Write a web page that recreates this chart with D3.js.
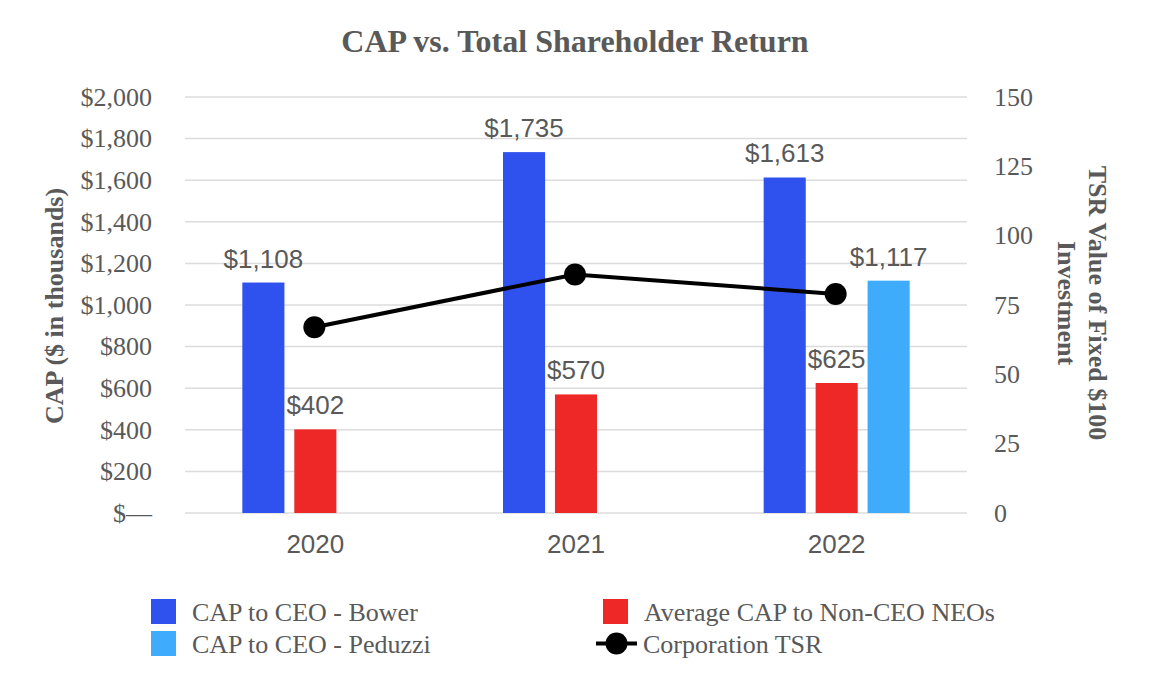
<!DOCTYPE html>
<html>
<head>
<meta charset="utf-8">
<script src="https://cdn.jsdelivr.net/npm/d3@7"></script>
<style>
  body { margin: 0; background: #fff; }
  .canvas { width: 1150px; height: 700px; }
</style>
</head>
<body>
<div class="canvas"></div>
<script>
// chart values
var years = ["2020", "2021", "2022"];
var capBower = [1108, 1735, 1613];
var capNeo = [402, 570, 625];
var capPeduzzi = [null, null, 1117];
var tsr = [67, 86, 79];
var capTicks = [0, 200, 400, 600, 800, 1000, 1200, 1400, 1600, 1800, 2000];
var tsrTicks = [0, 25, 50, 75, 100, 125, 150];

var seriesKeys = ["bower", "neo", "peduzzi"];
var seriesNames = {
    bower: "CAP to CEO - Bower",
    neo: "Average CAP to Non-CEO NEOs",
    peduzzi: "CAP to CEO - Peduzzi",
    tsr: "Corporation TSR"
};
var seriesColors = { bower: "#2f52ee", neo: "#ee2826", peduzzi: "#3eabfb" };
var seriesValues = { bower: capBower, neo: capNeo, peduzzi: capPeduzzi };

var W = 1150, H = 700;
var plot = { l: 185, r: 967, t: 97, b: 513 };
var grey = "#595959";
var serif = "'Liberation Serif', 'Times New Roman', serif";
var sans = "'Liberation Sans', Arial, sans-serif";

var svg = d3.select('.canvas')
    .append('svg')
    .attr('width', W)
    .attr('height', H);

// scales
var x0 = d3.scaleBand().domain(years).range([plot.l, plot.r]).padding(0);
var xs = d3.scaleBand().domain(seriesKeys).range([-73, 73]).paddingInner(0.19);
var yL = d3.scaleLinear().domain([0, 2000]).range([plot.b, plot.t]);
var yR = d3.scaleLinear().domain([0, 150]).range([plot.b, plot.t]);

function capFmt(v) { return v === 0 ? "$\u2014" : "$" + d3.format(",")(v); }

// title
svg.append('text')
    .attr('x', 575).attr('y', 52)
    .attr('text-anchor', 'middle')
    .style('font-family', serif).style('font-weight', 'bold')
    .style('font-size', '32px').style('fill', grey)
    .text("CAP vs. Total Shareholder Return");

// gridlines
svg.append('g').selectAll('line')
    .data(capTicks).enter().append('line')
    .attr('x1', plot.l).attr('x2', plot.r)
    .attr('y1', function(d){ return yL(d); })
    .attr('y2', function(d){ return yL(d); })
    .style('stroke', '#dcdcdc').style('stroke-width', 1.5);

// left axis
var leftAxis = d3.axisLeft(yL).tickValues(capTicks).tickFormat(capFmt).tickSize(0).tickPadding(0);
var gL = svg.append('g').attr('transform', 'translate(152,0)').call(leftAxis);
gL.select('.domain').remove();
gL.selectAll('text').style('font-family', serif).style('font-size', '26px').style('fill', grey);

// right axis
var rightAxis = d3.axisRight(yR).tickValues(tsrTicks).tickSize(0).tickPadding(0);
var gR = svg.append('g').attr('transform', 'translate(994,0)').call(rightAxis);
gR.select('.domain').remove();
gR.selectAll('text').style('font-family', serif).style('font-size', '26px').style('fill', grey);

// bottom axis (category labels)
var bottomAxis = d3.axisBottom(x0).tickSize(0).tickPadding(22);
var gB = svg.append('g').attr('transform', 'translate(0,' + plot.b + ')').call(bottomAxis);
gB.select('.domain').remove();
gB.selectAll('text').style('font-family', sans).style('font-size', '26px').style('fill', grey);

// axis titles
svg.append('text')
    .attr('transform', 'translate(63,306) rotate(-90)')
    .attr('text-anchor', 'middle')
    .style('font-family', serif).style('font-weight', 'bold')
    .style('font-size', '26px').style('fill', grey)
    .text("CAP ($ in thousands)");

var rTitle = svg.append('text')
    .attr('transform', 'translate(1089,303) rotate(90)')
    .attr('text-anchor', 'middle')
    .style('font-family', serif).style('font-weight', 'bold')
    .style('font-size', '26px').style('fill', grey);
rTitle.append('tspan').attr('x', 0).attr('dy', 0).text("TSR Value of Fixed $100");
rTitle.append('tspan').attr('x', 0).attr('dy', 31).text("Investment");

// bars + labels
var barData = [];
seriesKeys.forEach(function(k){
    years.forEach(function(y, i){
        var v = seriesValues[k][i];
        if (v !== null) barData.push({ key: k, year: y, value: v });
    });
});

function barX(d) { return x0(d.year) + x0.bandwidth() / 2 + xs(d.key); }

svg.append('g').selectAll('rect')
    .data(barData).enter().append('rect')
    .attr('x', barX)
    .attr('y', function(d){ return yL(d.value); })
    .attr('width', xs.bandwidth())
    .attr('height', function(d){ return plot.b - yL(d.value); })
    .style('fill', function(d){ return seriesColors[d.key]; });

svg.append('g').selectAll('text')
    .data(barData).enter().append('text')
    .attr('x', function(d){ return barX(d) + xs.bandwidth() / 2; })
    .attr('y', function(d){ return yL(d.value) - 15; })
    .attr('text-anchor', 'middle')
    .style('font-family', sans).style('font-size', '26px').style('fill', grey)
    .text(function(d){ return capFmt(d.value); });

// TSR line
var line = d3.line()
    .x(function(d, i){ return x0(years[i]) + x0.bandwidth() / 2 - 1; })
    .y(function(d){ return yR(d); });

svg.append('path')
    .datum(tsr)
    .attr('d', line)
    .style('fill', 'none').style('stroke', '#000').style('stroke-width', 4);

svg.append('g').selectAll('circle')
    .data(tsr).enter().append('circle')
    .attr('cx', function(d, i){ return x0(years[i]) + x0.bandwidth() / 2 - 1; })
    .attr('cy', function(d){ return yR(d); })
    .attr('r', 11)
    .style('fill', '#000');

// legend
var legendItems = [
    { key: "bower", x: 151, y: 599 },
    { key: "neo", x: 603, y: 599 },
    { key: "peduzzi", x: 151, y: 631 },
    { key: "tsr", x: 603, y: 631 }
];
var lg = svg.append('g').selectAll('g')
    .data(legendItems).enter().append('g')
    .attr('transform', function(d){ return 'translate(' + d.x + ',' + d.y + ')'; });

lg.filter(function(d){ return d.key !== "tsr"; })
    .append('rect')
    .attr('width', 25).attr('height', 25)
    .style('fill', function(d){ return seriesColors[d.key]; });

var tsrLeg = lg.filter(function(d){ return d.key === "tsr"; });
tsrLeg.append('line')
    .attr('x1', -7).attr('x2', 34).attr('y1', 12.5).attr('y2', 12.5)
    .style('stroke', '#000').style('stroke-width', 4);
tsrLeg.append('circle')
    .attr('cx', 13.5).attr('cy', 12.5).attr('r', 11)
    .style('fill', '#000');

lg.append('text')
    .attr('x', function(d){ return d.key === "tsr" ? 40 : 41; })
    .attr('y', 22)
    .style('font-family', serif).style('font-size', '26px').style('fill', grey)
    .text(function(d){ return seriesNames[d.key]; });
</script>
</body>
</html>
